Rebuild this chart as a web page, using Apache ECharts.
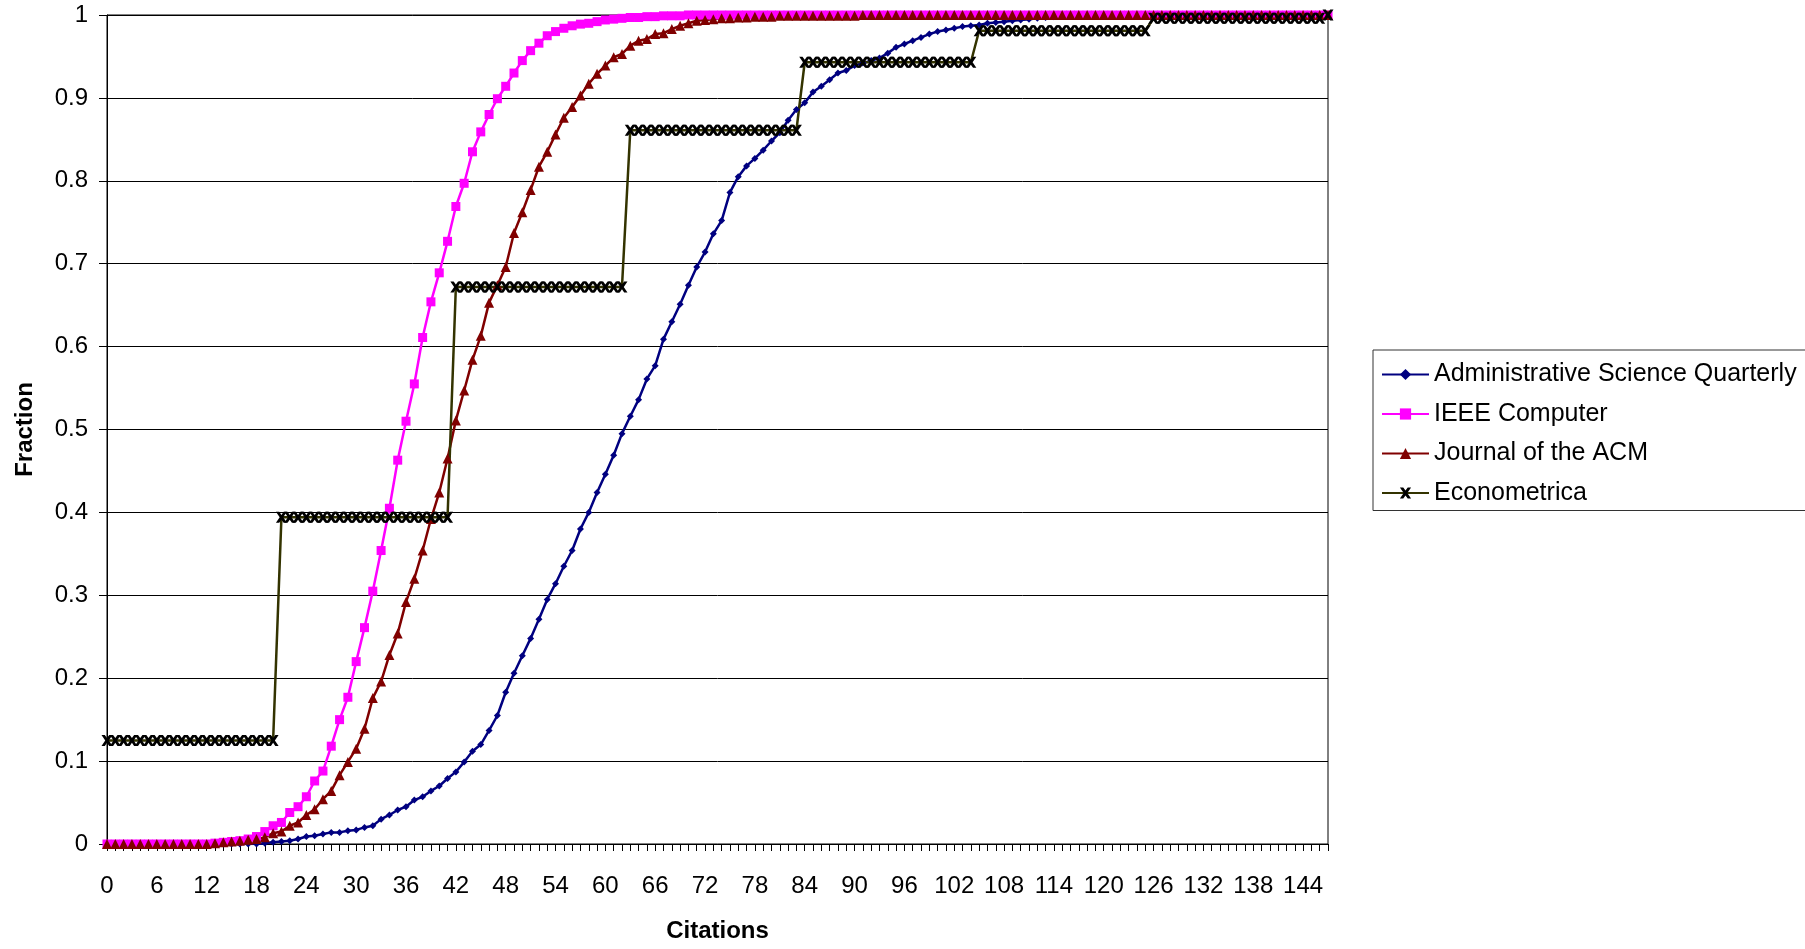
<!DOCTYPE html>
<html>
<head>
<meta charset="utf-8">
<script src="https://cdn.jsdelivr.net/npm/echarts/dist/echarts.min.js"></script>
<style>
html,body{margin:0;padding:0;background:#fff;}
#chart{width:1805px;height:949px;}
</style>
</head>
<body>
<div id="chart"></div>
<script>
const citations = [0,1,2,3,4,5,6,7,8,9,10,11,12,13,14,15,16,17,18,19,20,21,22,23,24,25,26,27,28,29,30,31,32,33,34,35,36,37,38,39,40,41,42,43,44,45,46,47,48,49,50,51,52,53,54,55,56,57,58,59,60,61,62,63,64,65,66,67,68,69,70,71,72,73,74,75,76,77,78,79,80,81,82,83,84,85,86,87,88,89,90,91,92,93,94,95,96,97,98,99,100,101,102,103,104,105,106,107,108,109,110,111,112,113,114,115,116,117,118,119,120,121,122,123,124,125,126,127,128,129,130,131,132,133,134,135,136,137,138,139,140,141,142,143,144,145,146,147];

const yTicks = [0,0.1,0.2,0.3,0.4,0.5,0.6,0.7,0.8,0.9,1];

const seriesNames = ["Administrative Science Quarterly","IEEE Computer","Journal of the ACM","Econometrica"];

const asq = [0,0,0,0,0,0,0,0,0,0,0,0,0,0,0,0,0,0,0,
0.001,0.002,0.003,0.004,0.006,0.009,0.010,0.012,0.014,0.014,
0.016,0.017,0.020,0.022,0.030,0.035,0.041,0.045,0.053,0.057,
0.064,0.070,0.079,0.087,0.099,0.112,0.120,0.137,0.155,0.183,
0.206,0.227,0.248,0.271,0.295,0.314,0.335,0.354,0.380,0.400,
0.424,0.446,0.469,0.495,0.516,0.536,0.561,0.577,0.609,0.630,
0.651,0.674,0.696,0.714,0.736,0.752,0.786,0.805,0.818,0.827,
0.837,0.848,0.858,0.873,0.886,0.894,0.907,0.914,0.922,0.930,
0.933,0.939,0.942,0.945,0.948,0.954,0.961,0.965,0.969,0.973,
0.977,0.980,0.982,0.984,0.986,0.987,0.988,0.990,0.991,0.992,
0.993,0.994,0.995,0.996,0.997,0.998,0.999,
1,1,1,1,1,1,1,1,1,1,1,1,1,1,1,1,1,1,1,1,1,1,1,1,1,1,1,1,1,1,1,1];

const ieee = [0,0,0,0,0,0,0,0,0,0,0,0,0,
0.001,0.002,0.003,0.004,0.006,0.009,0.015,0.022,0.026,0.038,
0.045,0.057,0.076,0.088,0.118,0.150,0.177,0.220,0.261,0.305,
0.354,0.405,0.463,0.510,0.555,0.611,0.654,0.689,0.727,0.769,
0.797,0.835,0.859,0.880,0.899,0.914,0.930,0.945,0.957,0.966,
0.975,0.980,0.984,0.987,0.989,0.990,0.992,0.994,0.995,0.996,
0.997,0.997,0.998,0.998,0.999,0.999,0.999,
1,1,1,1,1,1,1,1,1,1,1,1,1,1,1,1,1,1,1,1,1,1,1,1,1,1,1,1,1,1,1,1,1,1,1,1,1,1,1,1,1,1,1,1,1,1,1,1,1,1,1,1,1,1,1,1,1,1,1,1,1,1,1,1,1,1,1,1,1,1,1,1,1,1,1,1,1,1];

const jacm = [0,0,0,0,0,0,0,0,0,0,0,0,0,
0.001,0.002,0.003,0.004,0.005,0.006,0.008,0.013,0.015,0.022,
0.026,0.035,0.042,0.054,0.064,0.083,0.099,0.115,0.139,0.176,
0.196,0.228,0.254,0.292,0.320,0.354,0.392,0.424,0.465,0.511,
0.547,0.584,0.613,0.653,0.674,0.696,0.737,0.762,0.789,0.817,
0.835,0.856,0.876,0.889,0.903,0.917,0.929,0.939,0.949,0.953,
0.963,0.969,0.971,0.977,0.978,0.983,0.987,0.990,0.993,0.994,
0.995,0.996,0.996,0.997,0.997,0.998,0.998,0.998,
0.999,0.999,0.999,0.999,0.999,0.999,0.999,0.999,0.999,0.999,
1,1,1,1,1,1,1,1,1,1,1,1,1,1,1,1,1,1,1,1,1,1,1,1,1,1,1,1,1,1,1,1,1,1,1,1,1,1,1,1,1,1,1,1,1,1,1,1,1,1,1,1,1,1,1,1,1];

const econometrica = [
0.125,0.125,0.125,0.125,0.125,0.125,0.125,0.125,0.125,0.125,0.125,0.125,0.125,0.125,0.125,0.125,0.125,0.125,0.125,0.125,0.125,
0.394,0.394,0.394,0.394,0.394,0.394,0.394,0.394,0.394,0.394,0.394,0.394,0.394,0.394,0.394,0.394,0.394,0.394,0.394,0.394,0.394,
0.672,0.672,0.672,0.672,0.672,0.672,0.672,0.672,0.672,0.672,0.672,0.672,0.672,0.672,0.672,0.672,0.672,0.672,0.672,0.672,0.672,
0.861,0.861,0.861,0.861,0.861,0.861,0.861,0.861,0.861,0.861,0.861,0.861,0.861,0.861,0.861,0.861,0.861,0.861,0.861,0.861,0.861,
0.943,0.943,0.943,0.943,0.943,0.943,0.943,0.943,0.943,0.943,0.943,0.943,0.943,0.943,0.943,0.943,0.943,0.943,0.943,0.943,0.943,
0.981,0.981,0.981,0.981,0.981,0.981,0.981,0.981,0.981,0.981,0.981,0.981,0.981,0.981,0.981,0.981,0.981,0.981,0.981,0.981,0.981,
0.996,0.996,0.996,0.996,0.996,0.996,0.996,0.996,0.996,0.996,0.996,0.996,0.996,0.996,0.996,0.996,0.996,0.996,0.996,0.996,0.996,
1.0];

const FONT = "'Liberation Sans', Arial, sans-serif";
const xMark = 'path://M0 0 L3 0 L5 2.8 L7 0 L10 0 L6.6 5 L10 10 L7 10 L5 7.2 L3 10 L0 10 L3.4 5 Z';

const chart = echarts.init(document.getElementById('chart'), null, {renderer: 'canvas'});

function lineSeries(name, data, color, symbol, size, symColor, lineColor) {
  return {
    name: name,
    type: 'line',
    data: data,
    symbol: symbol,
    symbolSize: size,
    showAllSymbol: true,
    showSymbol: true,
    lineStyle: {color: lineColor || color, width: 2.5},
    itemStyle: {color: symColor || color, borderWidth: 0},
    emphasis: {disabled: true},
    animation: false
  };
}

chart.setOption({
  animation: false,
  backgroundColor: '#fff',
  textStyle: {fontFamily: FONT, color: '#000'},
  grid: {left: 107, right: 477, top: 15, bottom: 105, show: true, borderColor: '#000', borderWidth: 1, backgroundColor: 'transparent'},
  legend: {
    orient: 'vertical',
    left: 1373,
    top: 350,
    padding: [12, 10, 5, 8],
    itemWidth: 47,
    itemHeight: 14,
    itemGap: 14.5,
    borderColor: '#333',
    borderWidth: 1,
    backgroundColor: '#fff',
    textStyle: {fontSize: 25, color: '#000', fontFamily: FONT},
    data: seriesNames
  },
  xAxis: {
    type: 'category',
    data: citations,
    boundaryGap: false,
    name: 'Citations',
    nameLocation: 'middle',
    nameGap: 75,
    nameTextStyle: {fontSize: 24, fontWeight: 'bold', color: '#000', fontFamily: FONT},
    axisLine: {show: true, lineStyle: {color: '#000', width: 1}},
    axisTick: {show: true, interval: 0, length: 7, lineStyle: {color: '#000'}},
    axisLabel: {interval: 5, fontSize: 24, color: '#000', margin: 30, fontFamily: FONT},
    splitLine: {show: false}
  },
  yAxis: {
    type: 'value',
    min: yTicks[0],
    max: yTicks[yTicks.length - 1],
    interval: 0.1,
    name: 'Fraction',
    nameLocation: 'middle',
    nameRotate: 90,
    nameGap: 70,
    nameTextStyle: {fontSize: 24, fontWeight: 'bold', color: '#000', fontFamily: FONT},
    axisLine: {show: true, lineStyle: {color: '#000', width: 1}},
    axisTick: {show: true, length: 8, lineStyle: {color: '#000'}},
    axisLabel: {fontSize: 24, color: '#000', margin: 19, fontFamily: FONT},
    splitLine: {show: true, lineStyle: {color: '#000', width: 1}}
  },
  series: [
    lineSeries(seriesNames[0], asq, '#000080', 'diamond', 7),
    lineSeries(seriesNames[1], ieee, '#FF00FF', 'rect', 9),
    lineSeries(seriesNames[2], jacm, '#800000', 'triangle', 10),
    lineSeries(seriesNames[3], econometrica, '#333300', xMark, 11, '#000', '#333300')
  ]
});
</script>
</body>
</html>
